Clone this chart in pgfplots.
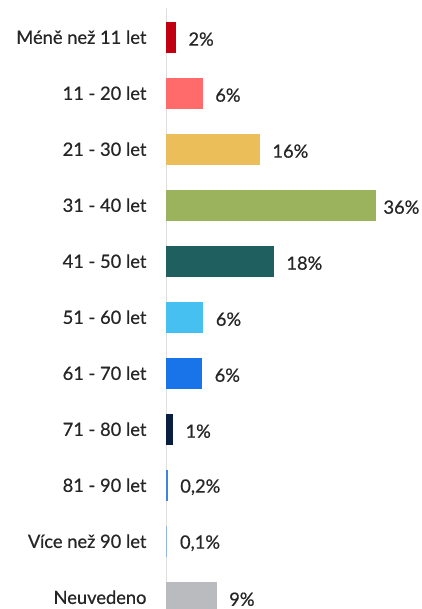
\documentclass[border=0pt]{standalone}
\usepackage{pgfplots}
\pgfplotsset{compat=1.18}
\usepackage{fontspec}
\setmainfont{Lato}[FakeBold=0.6]
\definecolor{cA}{HTML}{C00010}
\definecolor{cB}{HTML}{FF6B6B}
\definecolor{cC}{HTML}{EBBE5A}
\definecolor{cD}{HTML}{9CB35E}
\definecolor{cE}{HTML}{1F5F5F}
\definecolor{cF}{HTML}{45C0F0}
\definecolor{cG}{HTML}{1874E8}
\definecolor{cH}{HTML}{0A1F40}
\definecolor{cI}{HTML}{3D85E0}
\definecolor{cJ}{HTML}{8FB4EA}
\definecolor{cK}{HTML}{B9BBBE}
\definecolor{txt}{HTML}{262626}
\begin{document}
\begin{tikzpicture}[x=1pt,y=1pt]
\useasboundingbox (0,0) rectangle (422,609);
\begin{axis}[
  at={(166pt,0pt)}, anchor=south west,
  scale only axis, width=256pt, height=601pt,
  xmin=0, xmax=43.9,
  ymin=-0.52, ymax=10.21, y dir=reverse,
  xbar, bar width=31pt, bar shift=0pt,
  axis x line=none,
  axis y line*=left,
  y axis line style={draw=black!13, line width=1pt},
  ytick={0,...,10},
  yticklabels={Méně než 11 let, 11 - 20 let, 21 - 30 let, 31 - 40 let, 41 - 50 let, 51 - 60 let, 61 - 70 let, 71 - 80 let, 81 - 90 let, Více než 90 let, Neuvedeno},
  ytick style={draw=none},
  major tick length=0pt,
  yticklabel style={font=\fontsize{18.3}{20}\selectfont, text=txt, xshift=-16pt},
  nodes near coords, point meta=explicit symbolic,
  every node near coord/.append style={font=\fontsize{18.3}{20}\selectfont, text=txt, anchor=west, xshift=9pt, yshift=-2pt},
]
\addplot[fill=cA, draw=none] coordinates {(1.7,0) [2\%]};
\addplot[fill=cB, draw=none] coordinates {(6.3,1) [6\%]};
\addplot[fill=cC, draw=none] coordinates {(16.1,2) [16\%]};
\addplot[fill=cD, draw=none, every node near coord/.append style={xshift=-5pt}] coordinates {(36,3) [36\%]};
\addplot[fill=cE, draw=none] coordinates {(18.5,4) [18\%]};
\addplot[fill=cF, draw=none] coordinates {(6.4,5) [6\%]};
\addplot[fill=cG, draw=none] coordinates {(6.2,6) [6\%]};
\addplot[fill=cH, draw=none] coordinates {(1.2,7) [1\%]};
\addplot[fill=cI, draw=none] coordinates {(0.3,8) [{0,2\%}]};
\addplot[fill=cJ, draw=none] coordinates {(0.25,9) [{0,1\%}]};
\addplot[fill=cK, draw=none] coordinates {(8.7,10) [9\%]};
\end{axis}
\end{tikzpicture}
\end{document}
